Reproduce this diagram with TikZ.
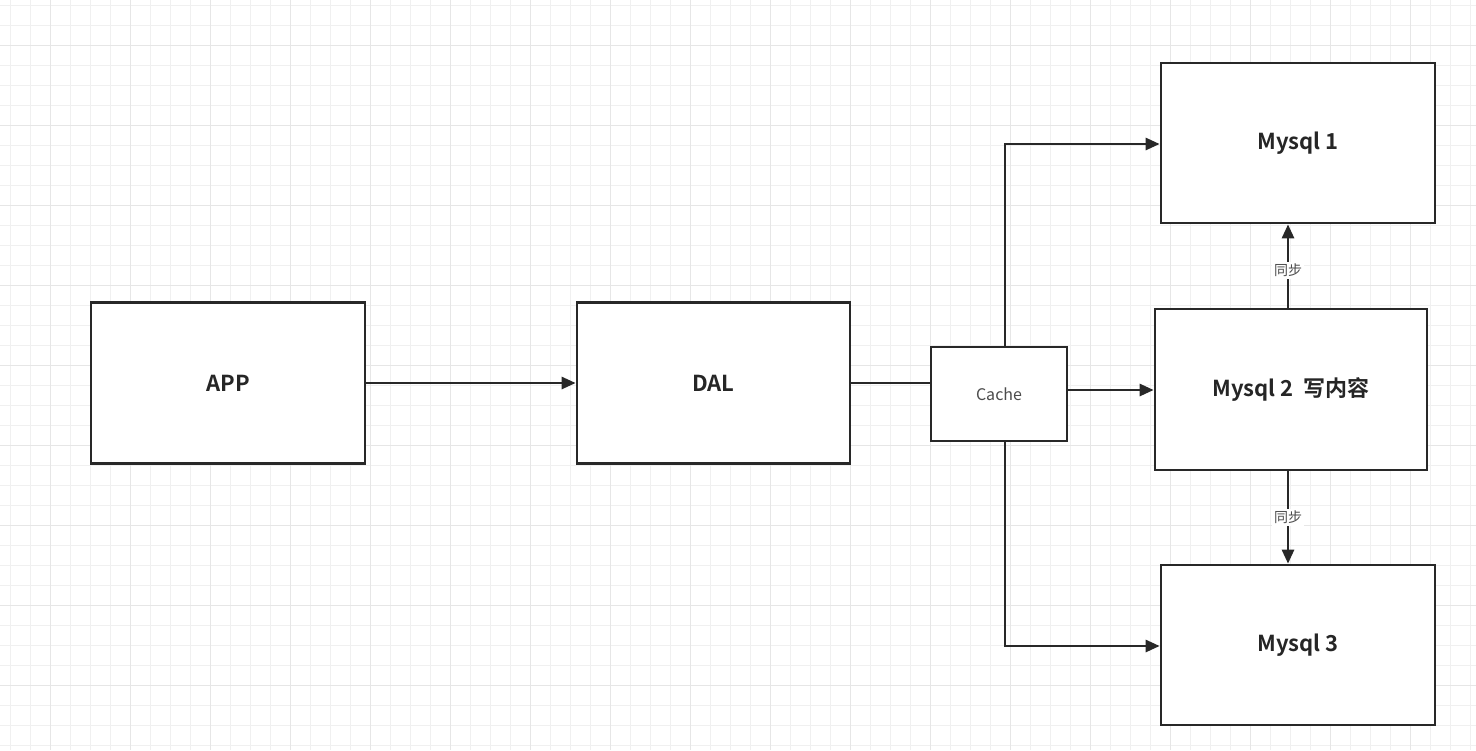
\documentclass[tikz,border=0pt]{standalone}
\usepackage{fontspec}
\setmainfont{Noto Sans CJK SC}
\newfontfamily\cjkbold{Noto Sans CJK SC Bold}
\usetikzlibrary{arrows.meta}
\definecolor{gridc}{RGB}{240,240,240}
\definecolor{gridd}{RGB}{230,230,230}
\definecolor{linec}{RGB}{40,40,40}
\tikzset{
  box/.style={draw=linec, line width=1.35pt, fill=white, inner sep=0pt, font=\cjkbold\fontsize{11}{13}\selectfont, text=black!85},
  conn/.style={draw=linec, line width=1.35pt},
  arr/.style={conn, -{Triangle[length=7pt,width=6pt]}},
  lbl/.style={fill=white, inner sep=1pt, font=\fontsize{7}{8}\selectfont, text=black!70}
}
\begin{document}
\begin{tikzpicture}[x=0.5pt,y=-0.5pt]
\useasboundingbox (0,0) rectangle (1476,750);
\fill[white] (0,0) rectangle (1476,750);
\foreach \i in {0,20,...,1460} {\draw[gridc, line width=0.4pt] (\i+10,0) -- (\i+10,750);}
\foreach \j in {0,20,...,740} {\draw[gridc, line width=0.4pt] (0,\j+5) -- (1476,\j+5);}
\foreach \i in {0,80,...,1440} {\draw[gridd, line width=0.5pt] (\i+50,0) -- (\i+50,750);}
\foreach \j in {0,80,...,720} {\draw[gridd, line width=0.5pt] (0,\j+45) -- (1476,\j+45);}

\node[box, minimum width=137pt, minimum height=80.5pt] (app) at (228,383) {APP};
\node[box, minimum width=136.5pt, minimum height=80.5pt] (dal) at (713.5,383) {DAL};
\node[box, minimum width=68pt, minimum height=47pt, font=\fontsize{8}{9}\selectfont, text=black!70] (cache) at (999,394) {Cache};
\node[box, minimum width=137pt, minimum height=80pt] (m1) at (1298,143) {Mysql 1};
\node[box, minimum width=136pt, minimum height=80.5pt] (m2) at (1291,389.5) {Mysql 2\ \ 写内容};
\node[box, minimum width=137pt, minimum height=80pt] (m3) at (1298,645) {Mysql 3};

\draw[arr] (app.east |- 0,383) -- (dal.west |- 0,383);
\draw[conn] (dal.east |- 0,383) -- (cache.west |- 0,383);
\draw[arr] (cache.east |- 0,390) -- (m2.west |- 0,390);
\draw[arr] (cache.north -| 1005,0) -- (1005,144) -- (m1.west |- 0,144);
\draw[arr] (cache.south -| 1005,0) -- (1005,646) -- (m3.west |- 0,646);
\draw[arr] (m2.north -| 1288,0) -- node[lbl, pos=0.45] (s1) {同步} (m1.south -| 1288,0);
\draw[arr] (m2.south -| 1288,0) -- node[lbl, pos=0.5] (s2) {同步} (m3.north -| 1288,0);
\end{tikzpicture}
\end{document}
